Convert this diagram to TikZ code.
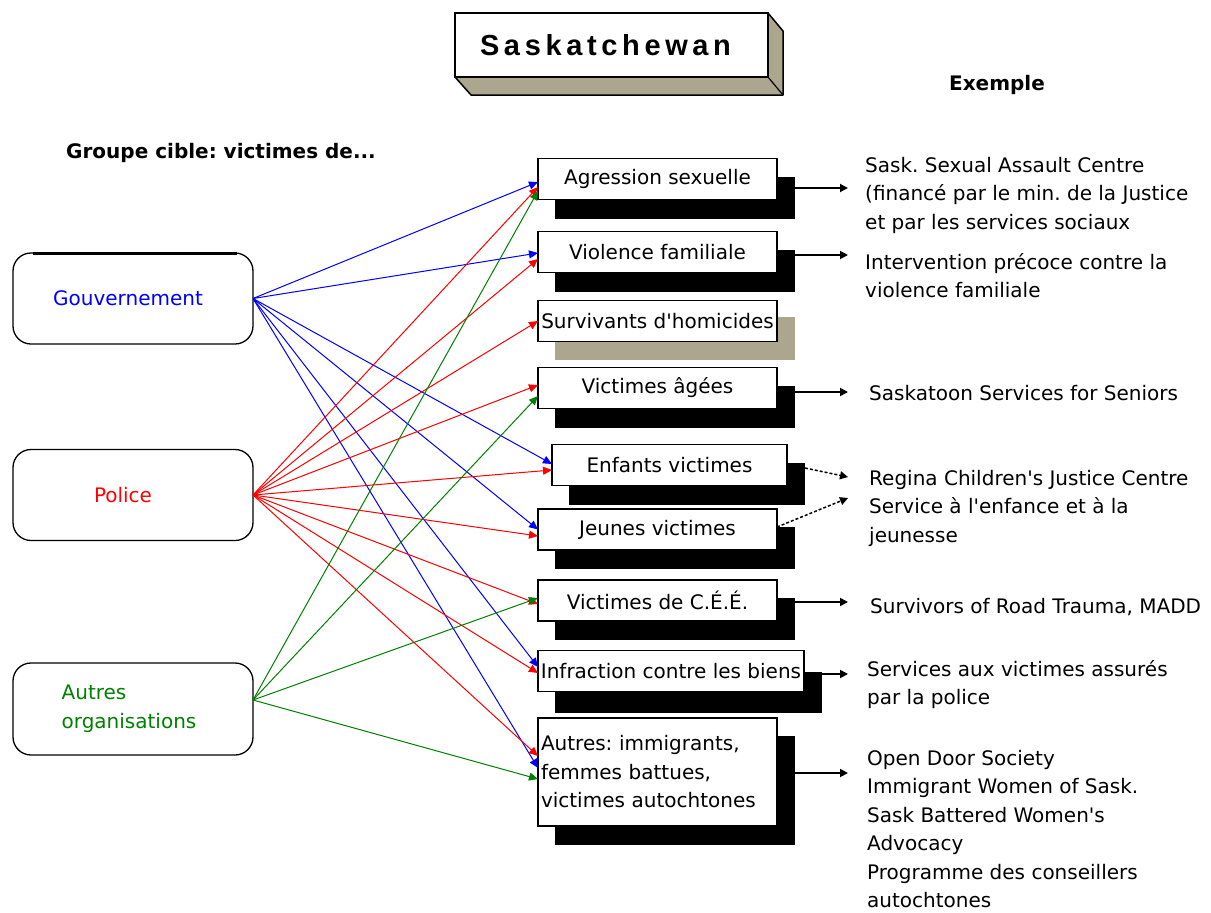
\documentclass[tikz,border=0pt]{standalone}
\usepackage{fontspec}
\setmainfont{DejaVu Sans}
\newfontfamily\titlefont[LetterSpace=16]{Liberation Sans}
\usetikzlibrary{arrows.meta,backgrounds,calc}
\definecolor{khaki}{RGB}{173,166,142}
\definecolor{ogreen}{RGB}{0,128,0}
\frenchspacing

\tikzset{
  txt/.style={font=\fontsize{20}{28.5}\selectfont},
  boldtxt/.style={font=\fontsize{20}{28.5}\selectfont\bfseries},
  actor/.style={draw, line width=1.3pt, rounded corners=18pt, fill=white,
    minimum width=240pt, minimum height=91pt, inner sep=0pt, outer sep=0pt},
  vbox/.style={draw, line width=1.4pt, fill=white, minimum width=239pt,
    minimum height=41pt, inner sep=0pt, outer sep=0pt},
  extext/.style={anchor=north west, align=left, inner sep=0pt},
  link/.style={line width=1pt, -{Triangle[length=9pt,width=8pt]}},
  govlink/.style={link, blue},
  pollink/.style={link, red},
  orglink/.style={link, ogreen},
  exlink/.style={line width=1.8pt, -{Triangle[length=8pt,width=8pt]}},
  exdash/.style={line width=1.5pt, dash pattern=on 3pt off 2pt, -{Triangle[length=8pt,width=8pt]}}
}

\begin{document}
\begin{tikzpicture}[x=1pt, y=-1pt, txt]
\useasboundingbox (0,0) rectangle (1211,913);

% title plate with its bevel
\node[draw, line width=2.5pt, fill=white, minimum width=313pt, minimum height=64pt,
      inner sep=0pt, outer sep=0pt,
      font=\titlefont\bfseries\fontsize{29}{36}\selectfont] (title) at (611.5,45) {Saskatchewan\hspace*{12pt}};
\filldraw[fill=khaki, line width=1.5pt, line join=round]
  (title.south west) -- ([shift={(16,18)}]title.south west)
  -- ([shift={(15,18)}]title.south east) -- ([shift={(15,18)}]title.north east)
  -- (title.north east) -- (title.south east) -- cycle;
\draw[line width=1.2pt] (title.south east) -- ([shift={(15,18)}]title.south east);

% headings
\node[boldtxt] (exhead) at (997,85) {Exemple};
\node[boldtxt, anchor=west, inner sep=0pt] (grp) at (66,153) {Groupe cible: victimes de...};

% funding sources
\node[actor, text=blue] (gov) at (133,298.5) {Gouvernement\hspace*{10pt}};
\draw[line width=3pt] ([xshift=20pt]gov.north west) -- ([xshift=-16pt]gov.north east);
\node[actor, text=red] (pol) at (133,495) {Police\hspace*{20pt}};
\node[actor, text=ogreen, align=left, minimum height=92pt] (org) at (133,709) {Autres\\organisations\hspace*{8pt}};

% target groups
\node[vbox] (agr) at (657.5,179) {Agression sexuelle};
\node[vbox] (vio) at (657.5,252) {Violence familiale};
\node[vbox] (sur) at (657.5,321) {Survivants d\textquotesingle homicides};
\node[vbox] (age) at (657.5,388) {Victimes âgées};
\node[vbox, minimum width=235pt] (enf) at (669.5,465) {Enfants victimes};
\node[vbox] (jeu) at (657.5,529.5) {Jeunes victimes};
\node[vbox] (cee) at (657.5,600.5) {Victimes de C.É.É.};
\node[vbox, minimum width=266pt] (inf) at (671,671) {Infraction contre les biens};
\node[vbox, minimum height=108pt, text width=233pt, align=left] (oth) at (657.5,772)
  {Autres: immigrants,\\femmes battues,\\victimes autochtones};

% box shadows
\begin{pgfonlayer}{background}
  \fill[white] (0,0) rectangle (1211,913);
  \foreach \n in {agr,vio,age,enf,jeu,cee,oth}
    \fill[black] ([shift={(17,18)}]\n.north west) rectangle ([shift={(18,19)}]\n.south east);
  \fill[black] ([shift={(17,21)}]inf.north west) rectangle ([shift={(18,21)}]inf.south east);
  \fill[khaki] ([shift={(17,16)}]sur.north west) rectangle ([shift={(18,18)}]sur.south east);
\end{pgfonlayer}

% examples
\node[extext] (ex1) at (865,157) {Sask. Sexual Assault Centre\\(financé par le min. de la Justice\\et par les services sociaux};
\node[extext] (ex2) at (865,253) {Intervention précoce contre la\\violence familiale};
\node[extext] (ex3) at (869,385) {Saskatoon Services for Seniors};
\node[extext] (ex4) at (869,470) {Regina Children\textquotesingle s Justice Centre\\Service à l\textquotesingle enfance et à la\\jeunesse};
\node[extext] (ex5) at (870,598) {Survivors of Road Trauma, MADD};
\node[extext] (ex6) at (867,660) {Services aux victimes assurés\\par la police};
\node[extext] (ex7) at (867,750) {Open Door Society\\Immigrant Women of Sask.\\Sask Battered Women\textquotesingle s\\Advocacy\\Programme des conseillers\\autochtones};

% arrow ends next to the examples
\coordinate (e1) at (848,188);
\coordinate (e2) at (848,255);
\coordinate (e3) at (848,392);
\coordinate (e4) at (848,477);
\coordinate (e5) at (848,498);
\coordinate (e6) at (848,602);
\coordinate (e7) at (848,674);
\coordinate (e8) at (848,773);

\draw[exlink] ($(e1 -| agr.east)+(18,0)$) -- (e1);
\draw[exlink] ($(e2 -| vio.east)+(18,0)$) -- (e2);
\draw[exlink] ($(e3 -| age.east)+(18,0)$) -- (e3);
\draw[exdash] ([shift={(18,3)}]enf.east) -- (e4);
\draw[exdash] ([yshift=2.5pt]jeu.east) -- (e5);
\draw[exlink] ($(e6 -| cee.east)+(18,0)$) -- (e6);
\draw[exlink] ($(e7 -| inf.east)+(18,0)$) -- (e7);
\draw[exlink] ($(e8 -| oth.east)+(18,0)$) -- (e8);

% government funding
\draw[govlink] (gov.east) -- ([yshift=-3pt]agr.west);
\draw[govlink] (gov.east) -- ([yshift=-1pt]vio.west);
\draw[govlink] (gov.east) -- ([yshift=1pt]enf.west);
\draw[govlink] (gov.east) -- (jeu.west);
\draw[govlink] (gov.east) -- ([yshift=4pt]inf.west);
\draw[govlink] (gov.east) -- ([yshift=4pt]oth.west);

% police funding
\draw[pollink] (pol.east) -- ([yshift=-8pt]agr.west);
\draw[pollink] (pol.east) -- ([yshift=-7pt]vio.west);
\draw[pollink] (pol.east) -- (sur.west);
\draw[pollink] (pol.east) -- ([yshift=3pt]age.west);
\draw[pollink] (pol.east) -- ([yshift=-5pt]enf.west);
\draw[pollink] (pol.east) -- ([yshift=-6.5pt]jeu.west);
\draw[pollink] (pol.east) -- ([yshift=-3.5pt]cee.west);
\draw[pollink] (pol.east) -- ([yshift=-2pt]inf.west);
\draw[pollink] (pol.east) -- ([yshift=16pt]oth.west);

% other organisations
\draw[orglink] ([yshift=9pt]org.east) -- ([yshift=-12pt]agr.west);
\draw[orglink] ([yshift=9pt]org.east) -- ([yshift=-8pt]age.west);
\draw[orglink] ([yshift=9pt]org.east) -- ([yshift=2.5pt]cee.west);
\draw[orglink] ([yshift=9pt]org.east) -- ([yshift=-7pt]oth.west);
\end{tikzpicture}
\end{document}
